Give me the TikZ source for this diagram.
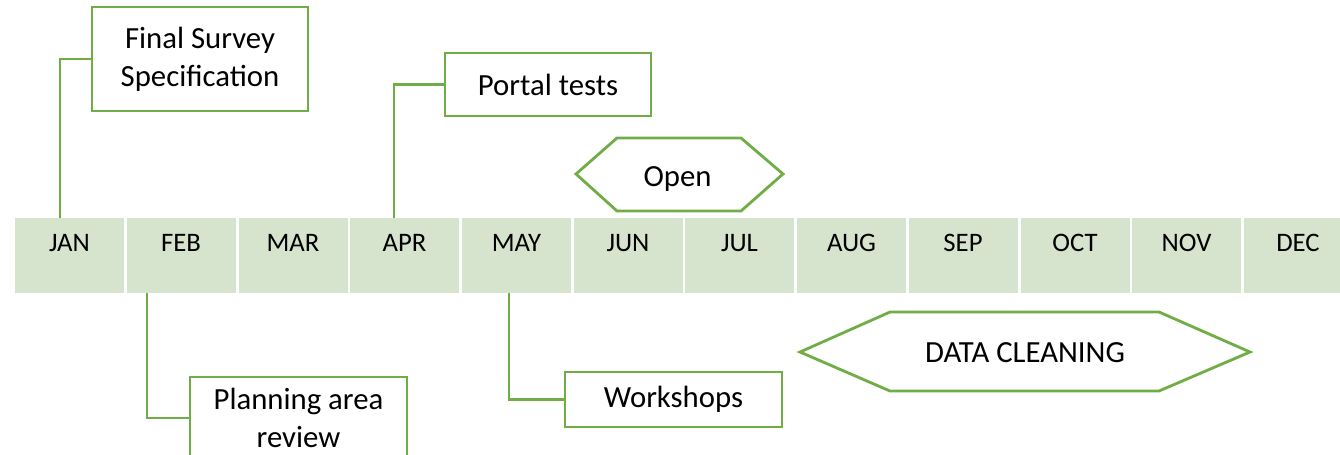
\documentclass[tikz,border=0pt]{standalone}
\usepackage{fontspec}
\setmainfont{Carlito}
\definecolor{leaf}{HTML}{70AD47}
\definecolor{monthfill}{HTML}{D6E3CD}

\begin{document}
\begin{tikzpicture}[
		month/.style={fill=monthfill, minimum width=2.18cm, inner xsep=0pt, inner ysep=0pt,
			text height=0.67cm, text depth=0.83cm, font=\fontsize{15.2}{18}\selectfont},
		task/.style={draw=leaf, line width=1.6pt, fill=white, align=center, inner sep=0pt,
			font=\fontsize{17.5}{21.5}\selectfont},
		phase/.style={draw=leaf, line width=1.6pt, fill=white, line join=miter},
		phaselabel/.style={anchor=base, inner sep=0pt, font=\fontsize{17.5}{21.5}\selectfont},
		link/.style={draw=leaf, line width=1.6pt}]
		\useasboundingbox (0,0) rectangle (26.8,9.08);
		\clip (0,0) rectangle (26.8,9.08);
		
		\node[month] (jan) at (1.39,3.97) {JAN};
		\node[month] (feb) at (3.62,3.97) {FEB};
		\node[month] (mar) at (5.86,3.97) {MAR};
		\node[month] (apr) at (8.09,3.97) {APR};
		\node[month] (may) at (10.33,3.97) {MAY};
		\node[month] (jun) at (12.56,3.97) {JUN};
		\node[month] (jul) at (14.79,3.97) {JUL};
		\node[month] (aug) at (17.03,3.97) {AUG};
		\node[month] (sep) at (19.26,3.97) {SEP};
		\node[month] (oct) at (21.50,3.97) {OCT};
		\node[month] (nov) at (23.73,3.97) {NOV};
		\node[month] (dec) at (25.96,3.97) {DEC};
		
		\node[task, minimum width=4.32cm, minimum height=2.08cm] (survey) at (4.00,7.90) {Final Survey\\Specification};
		\node[task, minimum width=4.12cm, minimum height=1.26cm] (portal) at (10.96,7.39) {Portal tests};
		\node[task, minimum width=4.34cm, minimum height=1.64cm] (planning) at (5.97,0.72) {Planning area\\review};
		\node[task, minimum width=4.34cm, minimum height=1.10cm] (workshops) at (13.47,1.09) {Workshops};
		
		\draw[link] ([xshift=-0.19cm]jan.north) |- (survey.west);
		\draw[link] ([xshift=-0.21cm]apr.north) |- (portal.west);
		\draw[link] ([xshift=-0.68cm]feb.south) |- (planning.west);
		\draw[link] ([xshift=-0.15cm]may.south) |- (workshops.west);
		
		\draw[phase] (11.52,5.60) -- (12.34,6.32) -- (14.82,6.32) -- (15.66,5.60) -- (14.82,4.86) -- (12.34,4.86) -- cycle;
		\node[phaselabel] (open) at (13.55,5.36) {Open};
		
		\draw[phase] (16.00,2.04) -- (17.80,2.84) -- (23.18,2.84) -- (25.00,2.04) -- (23.18,1.26) -- (17.80,1.26) -- cycle;
		\node[phaselabel] (cleaning) at (20.50,1.84) {DATA CLEANING};
	\end{tikzpicture}
\end{document}
